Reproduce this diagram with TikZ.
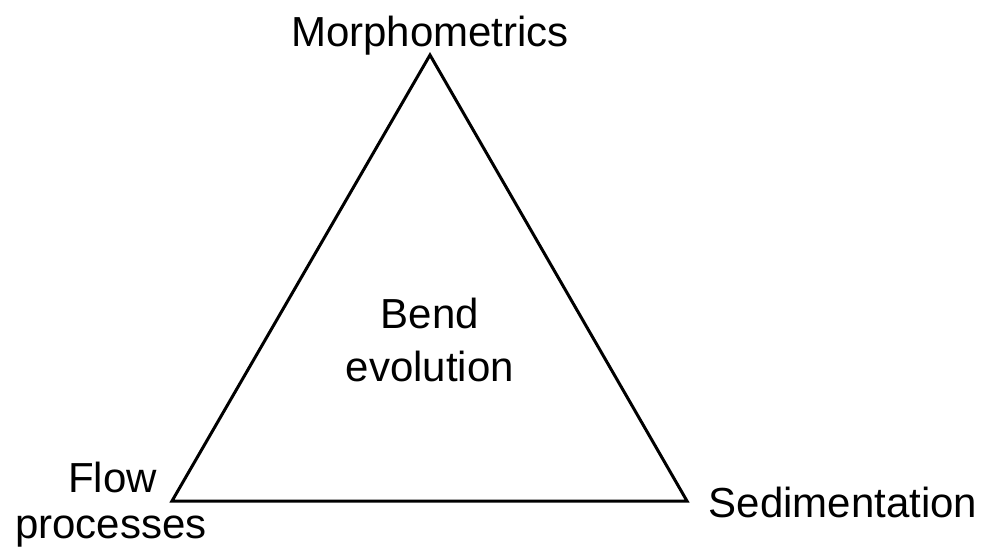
\documentclass[tikz,border=0pt]{standalone}
\usepackage{fontspec}
\setmainfont{Liberation Sans}
\begin{document}
\begin{tikzpicture}[x=1pt,y=-1pt,
  lbl/.style={inner sep=0pt,anchor=base,font=\fontsize{42}{50}\selectfont},
  tri/.style={draw=black,line width=3pt,line join=miter}]
\useasboundingbox (0,0) rectangle (991,549);
\coordinate (top) at (430,55);
\coordinate (bl) at (172,501);
\coordinate (br) at (687,501);
\draw[tri] (top) -- (bl) -- (br) -- cycle;
\node[lbl] (morph) at (430,46) {Morphometrics};
\node[lbl] (bend) at (430,328) {Bend};
\node[lbl] (evol) at (430,381) {evolution};
\node[lbl] (flow) at (112.5,492) {Flow};
\node[lbl] (proc) at (111,538) {processes};
\node[lbl] (sed) at (843,517) {Sedimentation};
\end{tikzpicture}
\end{document}
